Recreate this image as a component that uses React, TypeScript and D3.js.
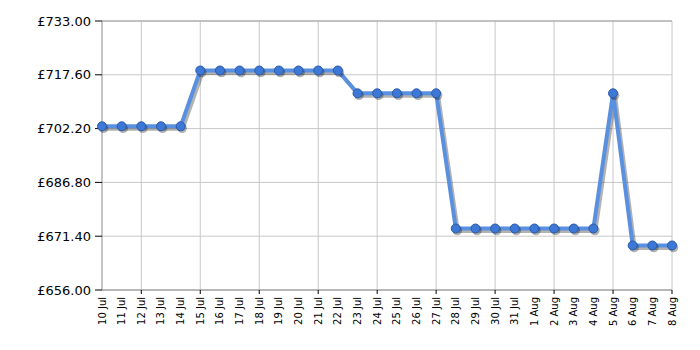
import React from "react";
import * as d3 from "d3";

const dates = [
  "10 Jul", "11 Jul", "12 Jul", "13 Jul", "14 Jul", "15 Jul", "16 Jul", "17 Jul", "18 Jul", "19 Jul",
  "20 Jul", "21 Jul", "22 Jul", "23 Jul", "24 Jul", "25 Jul", "26 Jul", "27 Jul", "28 Jul", "29 Jul",
  "30 Jul", "31 Jul", "1 Aug", "2 Aug", "3 Aug", "4 Aug", "5 Aug", "6 Aug", "7 Aug", "8 Aug",
];
const prices = [
  702.86, 702.86, 702.86, 702.86, 702.86,
  718.83, 718.83, 718.83, 718.83, 718.83, 718.83, 718.83, 718.83,
  712.3, 712.3, 712.3, 712.3, 712.3,
  673.6, 673.6, 673.6, 673.6, 673.6, 673.6, 673.6, 673.6,
  712.3,
  668.74, 668.74, 668.74,
];
const yTicks = [656, 671.4, 686.8, 702.2, 717.6, 733];
const gridDates = ["12 Jul", "15 Jul", "18 Jul", "21 Jul", "24 Jul", "27 Jul", "30 Jul", "2 Aug", "5 Aug", "8 Aug"];

const W = 700;
const H = 350;
const left = 102;
const right = 672;
const top = 21;
const bottom = 290;
const font = "'DejaVu Sans', Verdana, sans-serif";

export default function App() {
  const x = d3.scalePoint<string>().domain(dates).range([left, right]);
  const y = d3.scaleLinear().domain([656, 733]).range([bottom, top]);
  const pts: [number, number][] = dates.map((d, i) => [x(d) as number, y(prices[i])]);
  const line = d3.line().curve(d3.curveLinear)(pts) as string;

  return (
    <svg width={W} height={H} style={{ position: "absolute", left: 0, top: 0 }}>
      <rect x={0} y={0} width={W} height={H} fill="#fff" />
      {yTicks.map((t) => (
        <line key={"h" + t} x1={left} x2={right} y1={y(t)} y2={y(t)} stroke="#c8c8c8" strokeWidth={1} />
      ))}
      {gridDates.map((d) => (
        <line key={"v" + d} x1={x(d)} x2={x(d)} y1={top} y2={bottom} stroke="#c8c8c8" strokeWidth={1} />
      ))}
      <line x1={left} x2={left} y1={top} y2={bottom} stroke="#8c8c8c" strokeWidth={1} />
      <line x1={left} x2={right} y1={bottom} y2={bottom} stroke="#8c8c8c" strokeWidth={1} />
      <line x1={left} x2={right} y1={top} y2={top} stroke="#a0a0a0" strokeWidth={1} />
      {yTicks.map((t) => (
        <g key={"yt" + t}>
          <line x1={left - 7} x2={left} y1={y(t)} y2={y(t)} stroke="#000" strokeWidth={1} />
          <text x={left - 11} y={y(t)} dy="0.36em" textAnchor="end" fontFamily={font} fontSize={13} fill="#000">
            {"£" + t.toFixed(2)}
          </text>
        </g>
      ))}
      {gridDates.map((d) => (
        <line key={"xt" + d} x1={x(d)} x2={x(d)} y1={bottom} y2={bottom + 4} stroke="#000" strokeWidth={1} />
      ))}
      {dates.map((d) => (
        <text
          key={"xl" + d}
          transform={`translate(${(x(d) as number) + 3.5},${bottom + 7}) rotate(-90)`}
          textAnchor="end"
          fontFamily={font}
          fontSize={10}
          fill="#000"
        >
          {d}
        </text>
      ))}
      <path d={line} fill="none" stroke="rgba(0,0,0,0.3)" strokeWidth={4} transform="translate(2,2.5)" strokeLinejoin="round" />
      <path d={line} fill="none" stroke="#5a90e0" strokeWidth={4} strokeLinejoin="round" />
      {pts.map(([px, py], i) => (
        <circle key={"s" + i} cx={px + 1.5} cy={py + 2} r={4.8} fill="rgba(0,0,0,0.3)" />
      ))}
      {pts.map(([px, py], i) => (
        <circle key={"c" + i} cx={px} cy={py} r={4.5} fill="#3d78d6" stroke="#2a5aa8" strokeWidth={1} />
      ))}
    </svg>
  );
}
